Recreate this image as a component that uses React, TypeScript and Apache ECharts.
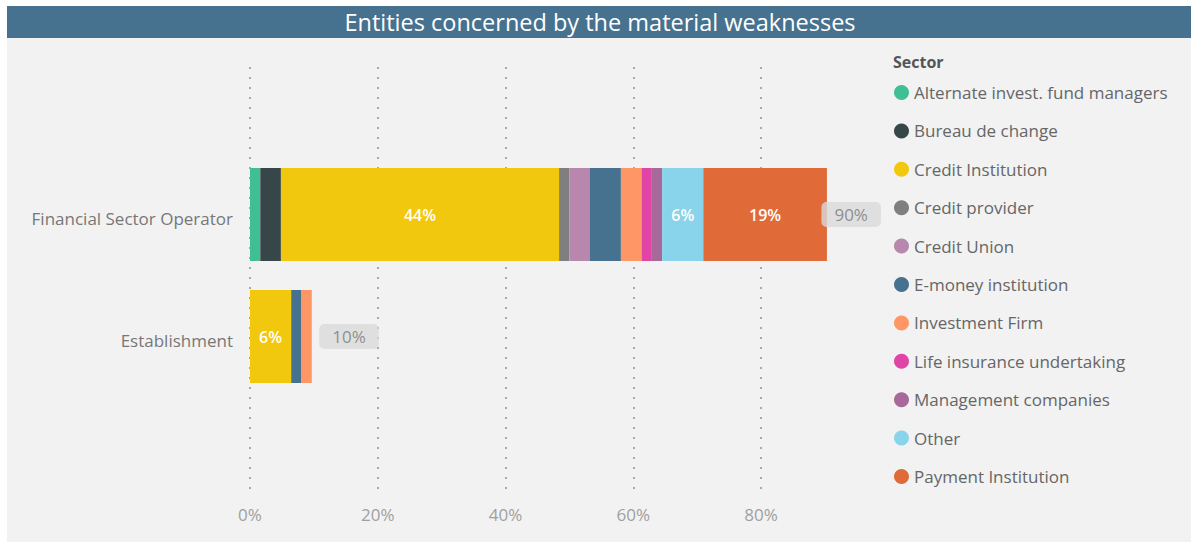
import React, { useEffect, useRef } from "react";
import * as echarts from "echarts";

const chartTitle = "Entities concerned by the material weaknesses";
const legendTitle = "Sector";
const categories = ["Financial Sector Operator", "Establishment"];
const sectors = [
  "Alternate invest. fund managers",
  "Bureau de change",
  "Credit Institution",
  "Credit provider",
  "Credit Union",
  "E-money institution",
  "Investment Firm",
  "Life insurance undertaking",
  "Management companies",
  "Other",
  "Payment Institution",
];
// percent of entities, per sector
const financialValues = [1.61, 3.23, 43.55, 1.61, 3.23, 4.84, 3.23, 1.61, 1.61, 6.45, 19.35];
const establishmentValues = [0, 0, 6.45, 0, 0, 1.61, 1.61, 0, 0, 0, 0];
const xTickValues = [0, 20, 40, 60, 80];

const sectorColors = [
  "#41BF94",
  "#374649",
  "#F2C80F",
  "#7F7F7F",
  "#B887AD",
  "#47728F",
  "#FE9666",
  "#E044A7",
  "#A66999",
  "#8AD4EB",
  "#E16B38",
];
const totalLabelOffsets = [-6, 7];
const FONT = "'Open Sans', 'Noto Sans', sans-serif";

export default function App() {
  const ref = useRef<HTMLDivElement>(null);

  useEffect(() => {
    document.body.style.margin = "0";
    if (!ref.current) return;
    const chart = echarts.init(ref.current, undefined, { renderer: "svg" });

    const totals = categories.map((_, i) => {
      const arr = i === 0 ? financialValues : establishmentValues;
      return arr.reduce((a, b) => a + b, 0);
    });

    const barSeries = sectors.map((name, s) => ({
      name,
      type: "bar",
      stack: "total",
      xAxisIndex: 1,
      yAxisIndex: 1,
      barWidth: 93,
      itemStyle: { color: sectorColors[s] },
      label: {
        show: true,
        position: "inside",
        color: "#ffffff",
        fontFamily: FONT,
        fontSize: 16,
        fontWeight: 600,
        formatter: (p: any) => (p.value >= 6 ? Math.round(p.value) + "%" : ""),
      },
      data: [financialValues[s], establishmentValues[s]],
    }));

    const totalSeries = {
      name: "Total",
      type: "scatter",
      xAxisIndex: 1,
      yAxisIndex: 1,
      symbolSize: 1,
      itemStyle: { color: "rgba(0,0,0,0)" },
      silent: true,
      label: {
        show: true,
        position: "right",
        distance: 0,
        color: "#777777",
        fontFamily: FONT,
        fontSize: 17,
        lineHeight: 17,
        backgroundColor: "#DADADA",
        borderRadius: 5,
        padding: [4, 13, 4, 13],
        formatter: (p: any) => Math.round(p.value[0]) + "%",
      },
      data: totals.map((t, i) => ({
        value: [t, categories[i]],
        label: { offset: [totalLabelOffsets[i], 0] },
      })),
    };

    chart.setOption({
      animation: false,
      backgroundColor: "#ffffff",
      textStyle: { fontFamily: FONT },
      graphic: [
        {
          type: "rect",
          z: -10,
          shape: { x: 7, y: 38, width: 1184, height: 504 },
          style: { fill: "#F2F2F2" },
          silent: true,
        },
        {
          type: "rect",
          z: -10,
          shape: { x: 7, y: 6, width: 1184, height: 32 },
          style: { fill: "#47728F" },
          silent: true,
        },
        {
          type: "text",
          x: 600,
          y: 22,
          style: {
            text: chartTitle,
            fill: "#ffffff",
            font: `23.5px ${FONT}`,
            align: "center",
            verticalAlign: "middle",
          },
        },
        {
          type: "text",
          x: 893,
          y: 62,
          style: {
            text: legendTitle,
            fill: "#555555",
            font: `bold 16px ${FONT}`,
            align: "left",
            verticalAlign: "middle",
          },
        },
      ],
      legend: {
        data: sectors,
        orient: "vertical",
        left: 889,
        top: 79,
        icon: "circle",
        itemWidth: 15,
        itemHeight: 15,
        itemGap: 21.4,
        textStyle: { color: "#666666", fontSize: 17, lineHeight: 17, fontFamily: FONT },
        selectedMode: false,
      },
      grid: [
        { left: 250, width: 638.75, top: 67, height: 429 },
        { left: 250, width: 638.75, top: 153.5, height: 244 },
      ],
      xAxis: [
        {
          gridIndex: 0,
          type: "value",
          min: 0,
          max: 100,
          interval: 20,
          axisLine: { show: false },
          axisTick: { show: false },
          axisLabel: {
            color: "#A0A0A0",
            fontSize: 17,
            margin: 10,
            fontFamily: FONT,
            showMaxLabel: false,
            formatter: (v: number) => (xTickValues.includes(v) ? v + "%" : ""),
          },
          splitLine: {
            show: true,
            showMaxLine: false,
            lineStyle: { color: "#A8A8A8", width: 2, type: [2, 8] },
          },
        },
        {
          gridIndex: 1,
          type: "value",
          min: 0,
          max: 100,
          show: false,
        },
      ],
      yAxis: [
        { gridIndex: 0, type: "value", show: false },
        {
          gridIndex: 1,
          type: "category",
          inverse: true,
          data: categories,
          axisLine: { show: false },
          axisTick: { show: false },
          splitLine: { show: false },
          axisLabel: {
            color: "#777777",
            fontSize: 17,
            margin: 17,
            fontFamily: FONT,
            verticalAlign: "top",
            lineHeight: 7,
          },
        },
      ],
      series: [...barSeries, totalSeries],
    });

    return () => chart.dispose();
  }, []);

  return <div ref={ref} style={{ width: 1191, height: 542 }} />;
}
